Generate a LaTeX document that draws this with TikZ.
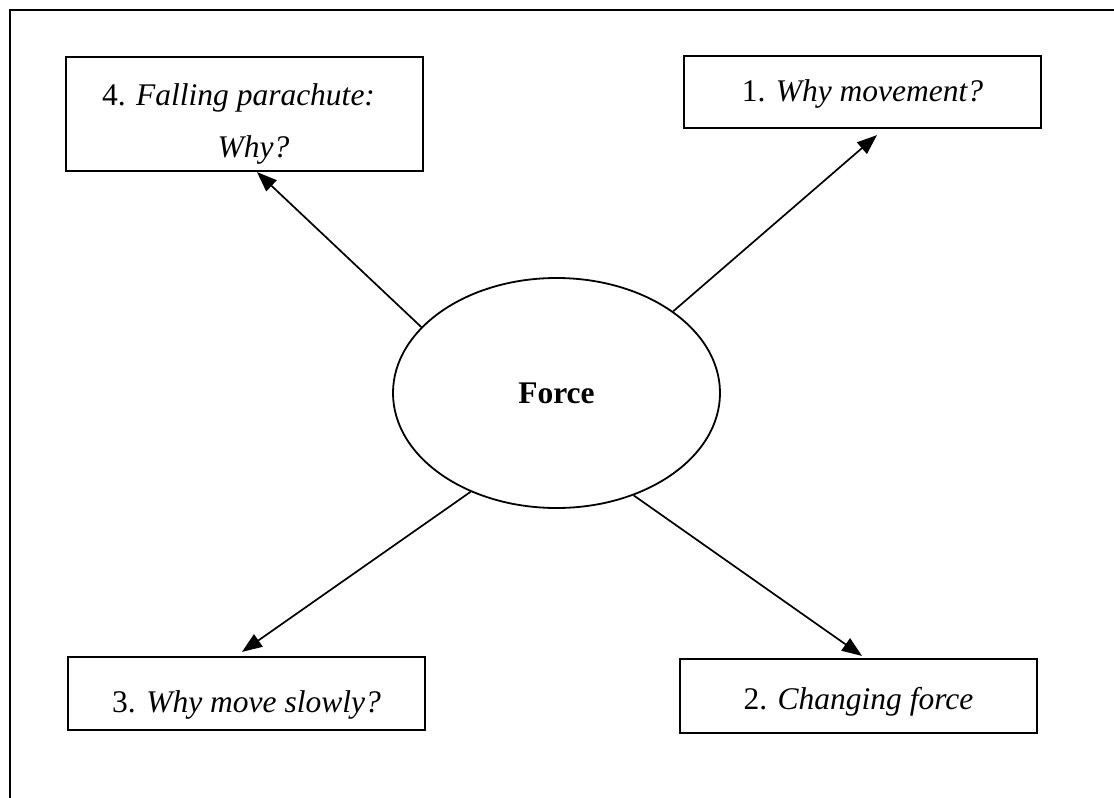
\documentclass[tikz,border=0pt]{standalone}
\usepackage{fontspec}
\setmainfont{Liberation Serif}
\usetikzlibrary{shapes.geometric,arrows.meta,calc}
\begin{document}
\begin{tikzpicture}[x=1pt,y=-1pt,
  box/.style={draw,line width=2.2pt,inner sep=0pt,minimum width=357pt,
    font=\fontsize{31.5}{52}\selectfont},
  hub/.style={draw,ellipse,line width=1.8pt,inner sep=0pt,minimum width=327pt,
    minimum height=230pt,font=\fontsize{31.5}{40}\selectfont\bfseries},
  conn/.style={line width=1.7pt,-{Triangle[length=20pt,width=15pt]}}]
\useasboundingbox (0,0) rectangle (1114,798);
\draw[line width=2.2pt] (10,805) -- (10,10) -- (1120,10);
\node[hub,text height=20pt,text depth=0pt] (e) at (556.5,393) {Force};
\node[box,minimum height=114pt,text height=0pt,text depth=18pt] (b4) at (244.5,114)
  {\begin{tabular}[t]{@{}c@{}}4. \textit{Falling parachute:}\hspace*{12pt}\\\hspace*{18pt}\textit{Why?}\end{tabular}};
\node[box,minimum height=72pt,text height=19.4pt,text depth=0pt] (b1) at (862.5,92)
  {1. \textit{Why movement?}};
\node[box,minimum height=73pt,text height=37pt,text depth=0pt] (b3) at (246.5,693.5)
  {3. \textit{Why move slowly?}};
\node[box,minimum height=74pt,text height=26pt,text depth=0pt] (b2) at (858.5,696)
  {2. \textit{Changing force}};
\draw[conn] (e.154) -- ($(b4.south)+(12.5,0)$);
\draw[conn] (e.35) -- ($(b1.south)+(14.5,6)$);
\draw[conn] (e.229) -- ($(b3.north)+(-4.5,-4)$);
\draw[conn] (e.307) -- ($(b2.north)+(3.5,-2)$);
\end{tikzpicture}
\end{document}
